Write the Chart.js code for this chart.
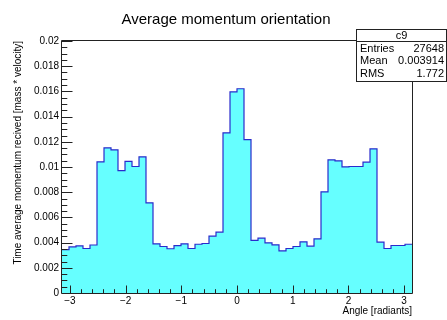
<!DOCTYPE html>
<html>
<head>
<meta charset="utf-8">
<script src="https://cdn.jsdelivr.net/npm/chart.js@4/dist/chart.umd.min.js"></script>
<style>
  html, body { margin: 0; padding: 0; background: #ffffff; }
  canvas { display: block; }
</style>
</head>
<body>
<canvas id="c" width="447" height="320"></canvas>
<script>
// Histogram contents: 50 bins spanning [-pi, pi]
const binLow = -Math.PI;
const binHigh = Math.PI;
const binValues = [
  0.00345, 0.00366, 0.00374, 0.00353, 0.00381,
  0.01041, 0.01152, 0.01136, 0.00972, 0.01044,
  0.01004, 0.01081, 0.00716, 0.00390, 0.00369,
  0.00351, 0.00376, 0.00390, 0.00353, 0.00387,
  0.00393, 0.00451, 0.00483, 0.01271, 0.01597,
  0.01621, 0.01218, 0.00417, 0.00435, 0.00398,
  0.00382, 0.00335, 0.00353, 0.00369, 0.00406,
  0.00372, 0.00430, 0.00803, 0.01057, 0.01049,
  0.01001, 0.01004, 0.01004, 0.01038, 0.01144,
  0.00403, 0.00353, 0.00377, 0.00377, 0.00387
];

// Axis labelling
const xTickValues = [-3, -2, -1, 0, 1, 2, 3];
const yTickValues = [0, 0.002, 0.004, 0.006, 0.008, 0.01, 0.012, 0.014, 0.016, 0.018, 0.02];
const titleText = 'Average momentum orientation';
const xTitle = 'Angle [radiants]';
const yTitle = 'Time average momentum recived [mass * velocity]';

// Statistics box
const statsName = 'c9';
const statsLabels = ['Entries', 'Mean', 'RMS'];
const statsValues = ['27648', '0.003914', '1.772'];

const FONT = '"Liberation Sans", Arial, Helvetica, sans-serif';

// Step outline: one point at each bin's lower edge, plus the closing upper edge
const binWidth = (binHigh - binLow) / binValues.length;
const histPoints = binValues.map((v, i) => ({ x: binLow + i * binWidth, y: v }));
histPoints.push({ x: binHigh, y: binValues[binValues.length - 1] });

const fmtX = v => (v < 0 ? '\u2212' + Math.abs(v) : String(v));
const fmtY = v => String(+v.toFixed(4));

// Frame, inward-pointing ticks, titles and the stats box
const rootStyle = {
  id: 'rootStyle',
  afterDatasetsDraw(chart) {
    const ctx = chart.ctx;
    const { left, right, top, bottom } = chart.chartArea;
    const xs = chart.scales.x, ys = chart.scales.y;
    ctx.save();
    ctx.strokeStyle = '#222';
    ctx.lineWidth = 1;
    ctx.beginPath();
    ctx.rect(left - 0.5, top - 0.5, right - left + 1, bottom - top + 1);
    ctx.stroke();

    ctx.beginPath();
    // y ticks: major every 0.002, minor every 0.0005
    for (let k = 0; k <= 40; k++) {
      const v = k * 0.0005;
      const y = Math.round(ys.getPixelForValue(v)) + 0.5;
      const len = (k % 4 === 0) ? 10.5 : 5.3;
      ctx.moveTo(left, y);
      ctx.lineTo(left + len, y);
    }
    // x ticks: major every 1, minor every 0.2
    for (let k = -15; k <= 15; k++) {
      const v = k * 0.2;
      const x = Math.round(xs.getPixelForValue(v)) + 0.5;
      const len = (k % 5 === 0) ? 7.5 : 3.8;
      ctx.moveTo(x, bottom);
      ctx.lineTo(x, bottom - len);
    }
    ctx.stroke();
    ctx.restore();
  },
  afterDraw(chart) {
    const ctx = chart.ctx;
    const { right, top } = chart.chartArea;
    ctx.save();
    ctx.fillStyle = '#000';

    // main title
    ctx.font = '15px ' + FONT;
    ctx.textAlign = 'center';
    ctx.textBaseline = 'alphabetic';
    ctx.fillText(titleText, 226, 24);

    // x axis title, right aligned to the axis end
    ctx.font = '10px ' + FONT;
    ctx.textAlign = 'right';
    ctx.textBaseline = 'middle';
    ctx.fillText(xTitle, right, 311);

    // y axis title, rotated, right aligned to the axis top
    ctx.save();
    ctx.translate(18, top);
    ctx.rotate(-Math.PI / 2);
    ctx.textAlign = 'right';
    ctx.textBaseline = 'middle';
    ctx.fillText(yTitle, 0, 0);
    ctx.restore();

    // stats box
    const bx = 356.5, by = 29.5, bw = 90, bh = 52;
    ctx.fillStyle = '#fff';
    ctx.fillRect(bx, by, bw, bh);
    ctx.strokeStyle = '#222';
    ctx.lineWidth = 1;
    ctx.strokeRect(bx, by, bw, bh);
    ctx.beginPath();
    ctx.moveTo(bx, 41.5);
    ctx.lineTo(bx + bw, 41.5);
    ctx.stroke();

    ctx.fillStyle = '#000';
    ctx.font = '11px ' + FONT;
    ctx.textBaseline = 'middle';
    ctx.textAlign = 'center';
    ctx.fillText(statsName, bx + bw / 2, 35.5);
    const rowY = [48.5, 61, 73.5];
    statsLabels.forEach((lab, i) => {
      ctx.textAlign = 'left';
      ctx.fillText(lab, 360, rowY[i]);
      ctx.textAlign = 'right';
      ctx.fillText(statsValues[i], 444, rowY[i]);
    });
    ctx.restore();
  }
};

new Chart(document.getElementById('c'), {
  type: 'line',
  data: {
    datasets: [{
      data: histPoints,
      stepped: 'before',
      fill: 'origin',
      backgroundColor: '#66ffff',
      borderColor: '#2b2bcc',
      borderWidth: 1.2,
      pointRadius: 0,
      pointHoverRadius: 0
    }]
  },
  options: {
    responsive: false,
    animation: false,
    devicePixelRatio: 1,
    layout: { padding: { top: 41, right: 35, left: 0, bottom: 0 } },
    plugins: { legend: { display: false }, tooltip: { enabled: false }, title: { display: false } },
    scales: {
      x: {
        type: 'linear',
        min: binLow,
        max: binHigh,
        grid: { display: false, drawTicks: false },
        border: { display: false },
        afterBuildTicks: s => { s.ticks = xTickValues.map(v => ({ value: v })); },
        afterFit: s => { s.height = 27; },
        ticks: {
          callback: v => fmtX(v),
          font: { family: FONT, size: 10 },
          color: '#000',
          padding: 2,
          maxRotation: 0,
          autoSkip: false
        }
      },
      y: {
        min: 0,
        max: 0.02,
        grid: { display: false, drawTicks: false },
        border: { display: false },
        afterBuildTicks: s => { s.ticks = yTickValues.map(v => ({ value: v })); },
        afterFit: s => { s.width = 62; },
        ticks: {
          callback: v => fmtY(v),
          font: { family: FONT, size: 10 },
          color: '#000',
          padding: 3,
          autoSkip: false
        }
      }
    }
  },
  plugins: [rootStyle]
});
</script>
</body>
</html>
